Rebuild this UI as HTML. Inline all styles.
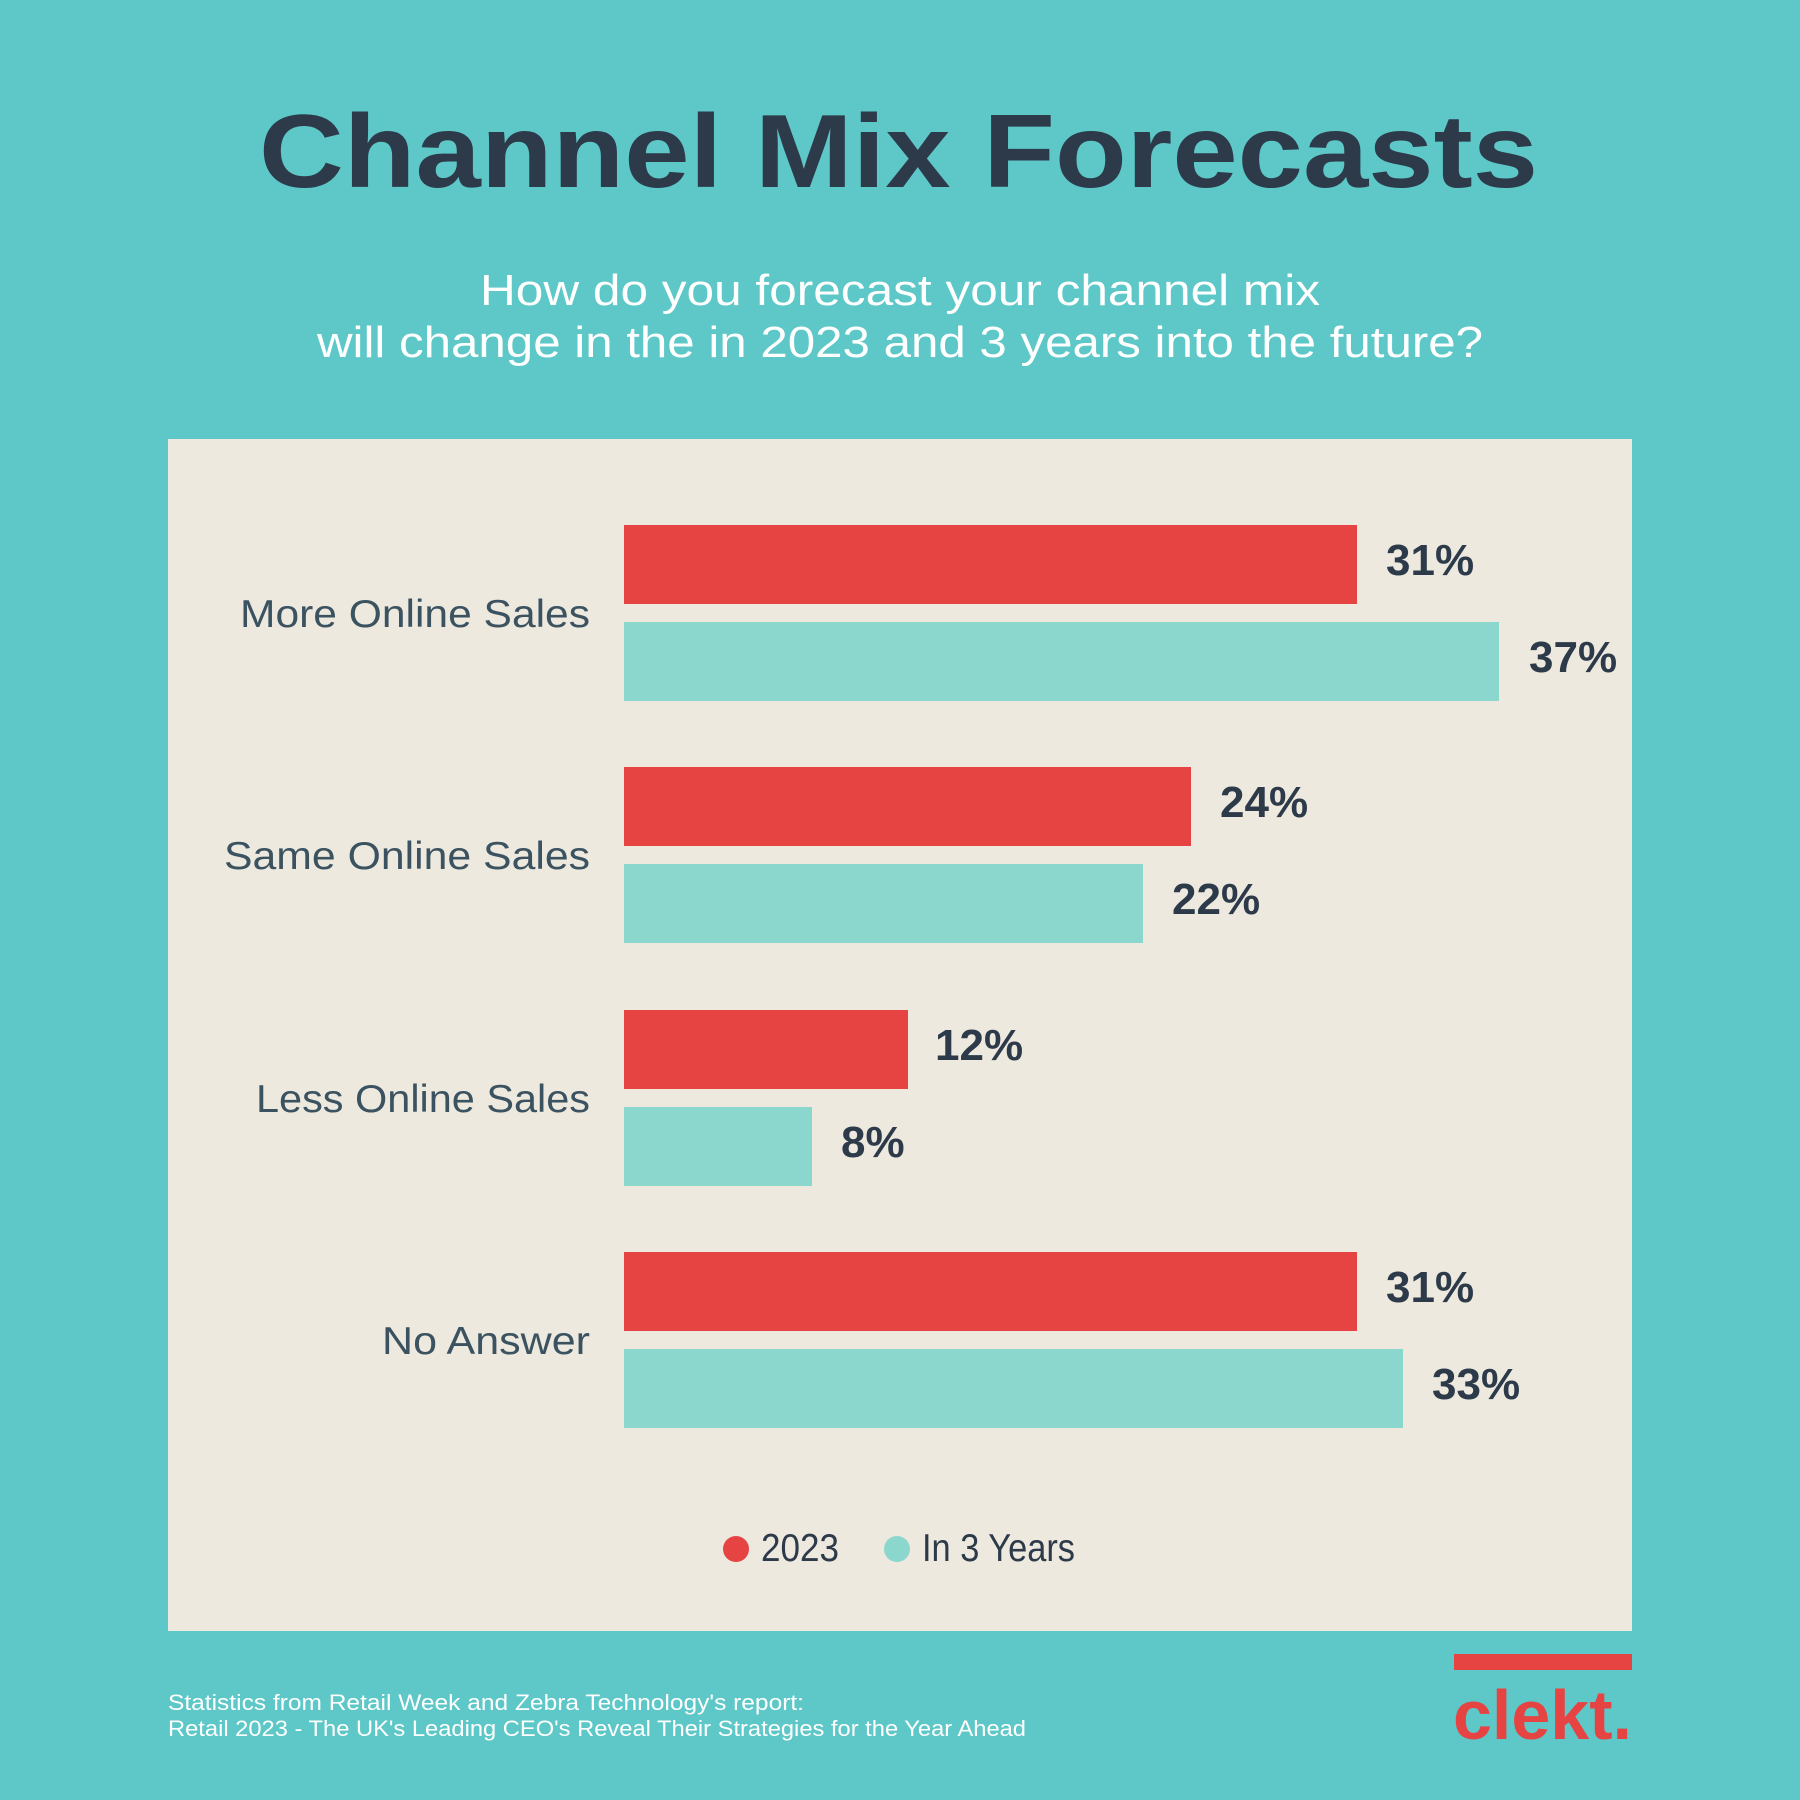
<!DOCTYPE html>
<html><head><meta charset="utf-8"><style>
html,body{margin:0;padding:0;background:#5ec7c7;}
svg{display:block}
</style></head><body>
<svg width="1800" height="1800" viewBox="0 0 1800 1800" xmlns="http://www.w3.org/2000/svg" font-family="Liberation Sans, sans-serif">
<rect width="1800" height="1800" fill="#5ec7c7"/>
<text x="259" y="187" font-size="104" font-weight="bold" fill="#2c3a4a" textLength="1279" lengthAdjust="spacingAndGlyphs">Channel Mix Forecasts</text>
<text x="480" y="305" font-size="44" fill="#ffffff" textLength="840" lengthAdjust="spacingAndGlyphs">How do you forecast your channel mix</text>
<text x="317" y="357" font-size="44" fill="#ffffff" textLength="1166" lengthAdjust="spacingAndGlyphs">will change in the in 2023 and 3 years into the future?</text>
<rect x="168" y="439" width="1464" height="1192" fill="#eee9de"/>
<g font-size="39" fill="#3b5260">
<text x="240" y="627" textLength="350" lengthAdjust="spacingAndGlyphs">More Online Sales</text>
<text x="224" y="869" textLength="366" lengthAdjust="spacingAndGlyphs">Same Online Sales</text>
<text x="256" y="1112" textLength="334" lengthAdjust="spacingAndGlyphs">Less Online Sales</text>
<text x="382" y="1354" textLength="208" lengthAdjust="spacingAndGlyphs">No Answer</text>
</g>
<g>
<rect x="624" y="525" width="733" height="79" fill="#e64343"/>
<rect x="624" y="622" width="875" height="79" fill="#8bd7cd"/>
<rect x="624" y="767" width="567" height="79" fill="#e64343"/>
<rect x="624" y="864" width="519" height="79" fill="#8bd7cd"/>
<rect x="624" y="1010" width="284" height="79" fill="#e64343"/>
<rect x="624" y="1107" width="188" height="79" fill="#8bd7cd"/>
<rect x="624" y="1252" width="733" height="79" fill="#e64343"/>
<rect x="624" y="1349" width="779" height="79" fill="#8bd7cd"/>
</g>
<g font-size="44" font-weight="bold" fill="#2c3a4a">
<text x="1386" y="575">31%</text>
<text x="1529" y="672">37%</text>
<text x="1220" y="817">24%</text>
<text x="1172" y="914">22%</text>
<text x="935" y="1060">12%</text>
<text x="841" y="1157">8%</text>
<text x="1386" y="1302">31%</text>
<text x="1432" y="1399">33%</text>
</g>
<circle cx="736" cy="1549" r="13" fill="#e64343"/>
<text x="761" y="1561" font-size="39" fill="#2c3a4a" textLength="78" lengthAdjust="spacingAndGlyphs">2023</text>
<circle cx="897" cy="1549" r="13" fill="#8bd7cd"/>
<text x="922" y="1561" font-size="39" fill="#2c3a4a" textLength="153" lengthAdjust="spacingAndGlyphs">In 3 Years</text>
<g font-size="22" fill="#ffffff">
<text x="168" y="1710" textLength="636" lengthAdjust="spacingAndGlyphs">Statistics from Retail Week and Zebra Technology's report:</text>
<text x="168" y="1736" textLength="858" lengthAdjust="spacingAndGlyphs">Retail 2023 - The UK's Leading CEO's Reveal Their Strategies for the Year Ahead</text>
</g>
<rect x="1454" y="1654" width="178" height="16" fill="#e64343"/>
<text x="1453" y="1739" font-size="70" font-weight="bold" fill="#e64343" textLength="179" lengthAdjust="spacingAndGlyphs">clekt.</text>
</svg>
</body></html>
